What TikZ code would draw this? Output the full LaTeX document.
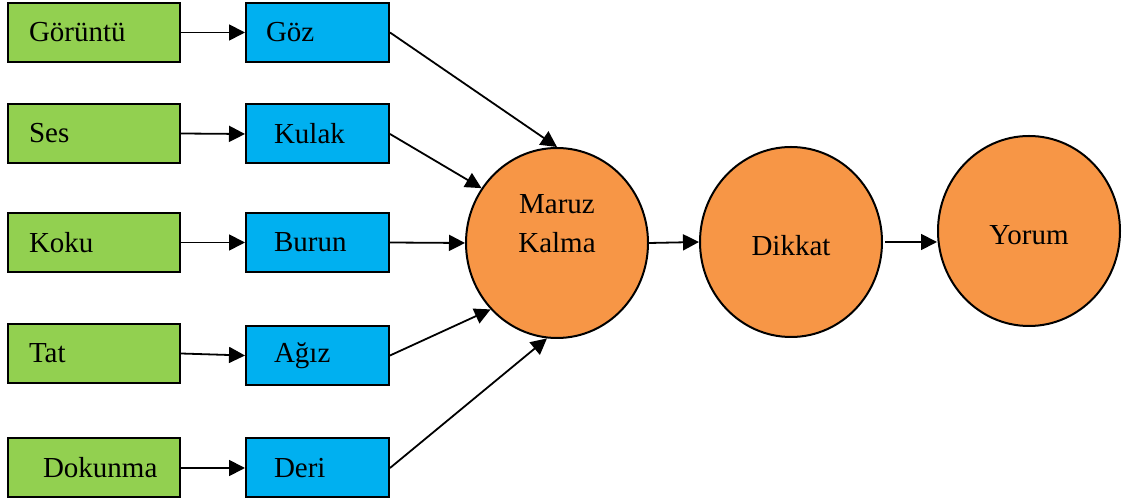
\documentclass[tikz,border=0pt]{standalone}
\usepackage{fontspec}
\setmainfont{Liberation Serif}
\usetikzlibrary{arrows.meta,shapes.geometric}
\definecolor{stimgreen}{HTML}{92D050}
\definecolor{organblue}{HTML}{00B0F0}
\definecolor{stageorange}{HTML}{F79646}

\begin{document}
\begin{tikzpicture}[
  x=0.5pt, y=-0.5pt,
  font=\fontsize{14.5}{19.5}\selectfont,
  % stimulus boxes on the left, sense organs next to them
  stim/.style={draw, fill=stimgreen, line width=1pt, minimum height=29.5pt,
    text width=65pt, inner xsep=10.5pt, inner ysep=0pt, align=left},
  organ/.style={draw, fill=organblue, line width=1pt, minimum height=29.5pt,
    text width=51.5pt, inner xsep=10pt, inner ysep=0pt, align=left},
  stage/.style={ellipse, draw, fill=stageorange, line width=1pt,
    minimum width=91pt, minimum height=95pt, inner sep=0pt, align=center},
  flow/.style={-{Triangle[length=8pt,width=8pt]}, line width=0.9pt}
]
\useasboundingbox (0,0) rectangle (1125,501);
\node[stim] (gor)  at (94,32.5)  {Görüntü};
\node[stim] (ses)  at (94,133.5) {Ses};
\node[stim] (koku) at (94,242.5) {Koku};
\node[stim] (tat)  at (94,353.5) {Tat};
\node[stim] (dok)  at (94,468)   {\hspace*{7pt}Dokunma};
\node[organ] (goz)   at (317.5,32.5)  {Göz};
\node[organ] (kulak) at (317.5,134)   {\hspace*{4pt}Kulak};
\node[organ] (burun) at (317.5,242.5) {\hspace*{4pt}Burun};
\node[organ] (agiz)  at (317.5,355.5) {\hspace*{4pt}Ağız};
\node[organ] (deri)  at (317.5,468)   {\hspace*{4pt}Deri};
% the text sits in the upper half of the first circle
\node[stage, text depth=19pt] (maruz) at (557,243) {Maruz\\Kalma};
\node[stage, text height=14pt] (dikkat) at (791,242) {Dikkat};
\node[stage, text height=13.5pt] (yorum)  at (1029,231) {Yorum};
\foreach \a/\b in {gor/goz, ses/kulak, koku/burun, tat/agiz, dok/deri}
  \draw[flow] (\a.east) -- (\b.west);
\draw[flow] (goz.east) -- (maruz.north);
\draw[flow] (kulak.east) -- (maruz.144);
\draw[flow] (burun.east) -- (maruz.west);
\draw[flow] (agiz.east) -- (maruz.225);
\draw[flow] (deri.east) -- (maruz.264);
\draw[flow] (maruz.east) -- (dikkat.west);
\draw[flow] ([xshift=1pt]dikkat.east) -- (dikkat.east -| yorum.west);
\end{tikzpicture}
\end{document}
